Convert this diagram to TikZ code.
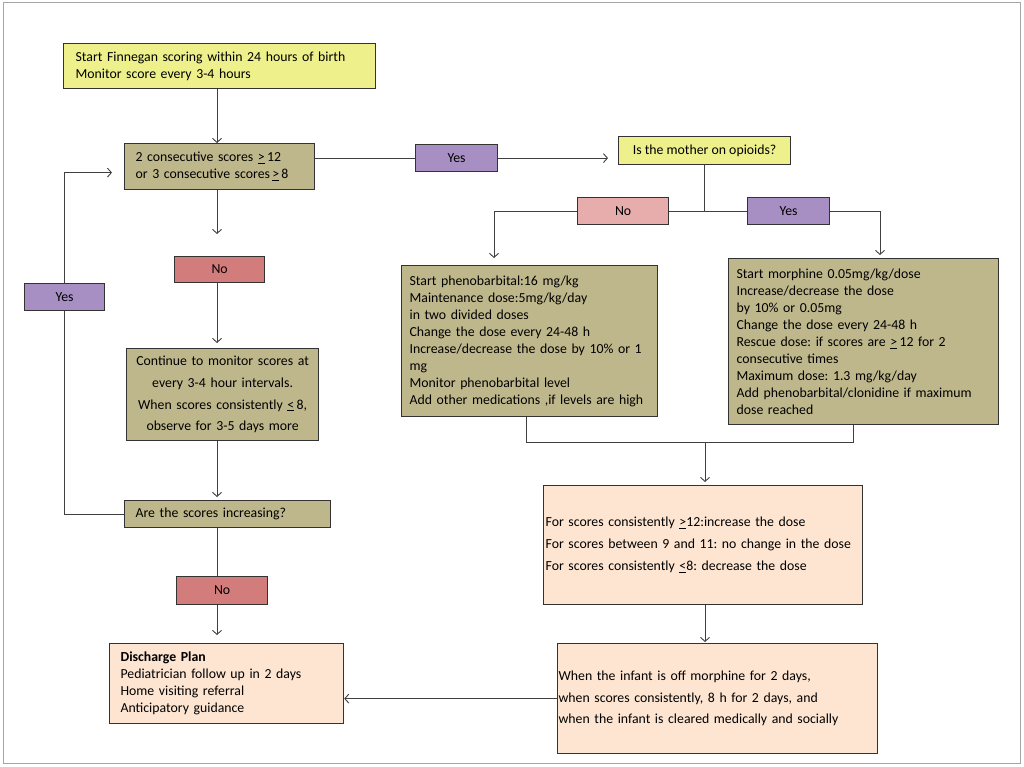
\documentclass[tikz,border=0pt]{standalone}
\usepackage{fontspec}
\setmainfont{Carlito}
\usetikzlibrary{arrows.meta}
\frenchspacing

\definecolor{ylwfill}{RGB}{238,240,140}
\definecolor{khakifill}{RGB}{191,183,140}
\definecolor{peachfill}{RGB}{253,229,210}
\definecolor{yesfill}{RGB}{167,143,196}
\definecolor{nopink}{RGB}{231,172,172}
\definecolor{nored}{RGB}{211,124,124}

\begin{document}
\begin{tikzpicture}[x=1pt,y=-1pt,
    box/.style={draw=black!80,line width=1.2pt,anchor=north west,inner ysep=0pt,
      text=black,font=\fontsize{13.8}{17}\selectfont},
    ylw/.style={box,fill=ylwfill},
    khaki/.style={box,fill=khakifill},
    peach/.style={box,fill=peachfill},
    yesbox/.style={box,fill=yesfill,minimum width=82pt,minimum height=27pt},
    nobox/.style={box,minimum width=91pt,minimum height=27pt},
    flow/.style={->,>={Straight Barb[length=4pt,width=9pt]},draw=black!75,line width=0.9pt},
    link/.style={draw=black!75,line width=0.9pt}]

    \useasboundingbox (0,0) rectangle (1024,767);
    \draw[gray!70,line width=1pt] (3,3) rectangle (1020,763);

    % left column
    \node[ylw,minimum width=312pt,minimum height=45pt,inner xsep=12pt,text width=288pt,align=left] (start) at (63,43)
      {Start Finnegan scoring within 24 hours of birth\\Monitor score every 3-4 hours};
    \node[khaki,minimum width=190pt,minimum height=46pt,text width=168pt,align=left] (cons) at (124,143)
      {2 consecutive scores \underline{>}\,12\\or 3 consecutive scores\,\underline{>}\,8};
    \node[nobox,fill=nored,minimum width=90pt,minimum height=26pt] (no1) at (174,256) {No};
    \node[khaki,minimum width=192pt,minimum height=92pt,text width=184pt,inner xsep=4pt,align=center,
      font=\fontsize{13.8}{21.7}\selectfont] (cont) at (126,348)
      {Continue to monitor scores at\\every 3-4 hour intervals.\\When scores consistently \underline{<}\,8,\\observe for 3-5 days more};
    \node[khaki,minimum width=206pt,minimum height=27pt,text width=184pt,align=left] (are) at (124,500)
      {Are the scores increasing?};
    \node[nobox,fill=nored,minimum height=28pt] (no2) at (176,576) {No};
    \node[yesbox,minimum width=80pt] (yes3) at (24,283) {Yes};
    \node[peach,minimum width=234pt,minimum height=80pt,text width=212pt,align=left] (disch) at (109,643)
      {\textbf{Discharge Plan}\\Pediatrician follow up in 2 days\\Home visiting referral\\Anticipatory guidance};

    % right side
    \node[yesbox] (yes1) at (415,144) {Yes};
    \node[ylw,minimum width=172pt,minimum height=28pt] (mother) at (618,136) {Is the mother on opioids?};
    \node[nobox,fill=nopink] (no3) at (577,197) {No};
    \node[yesbox] (yes2) at (747,197) {Yes};
    \node[khaki,minimum width=256pt,minimum height=151pt,text width=240pt,inner xsep=8pt,align=left] (pheno) at (401,265)
      {Start phenobarbital:16 mg/kg\\Maintenance dose:5mg/kg/day\\in two divided doses\\Change the dose every 24-48 h\\
       Increase/decrease the dose by 10\% or 1\\mg\\Monitor phenobarbital level\\Add other medications ,if levels are high};
    \node[khaki,minimum width=270pt,minimum height=166pt,text width=254pt,inner xsep=8pt,align=left] (morph) at (728,258)
      {Start morphine 0.05mg/kg/dose\\Increase/decrease the dose\\by 10\% or 0.05mg\\Change the dose every 24-48 h\\
       Rescue dose: if scores are \underline{>}\,12 for 2\\consecutive times\\Maximum dose: 1.3 mg/kg/day\\
       Add phenobarbital/clonidine if maximum\\dose reached};
    \node[peach,minimum width=319pt,minimum height=119pt,inner xsep=2pt,text width=315pt,align=left,
      font=\fontsize{13.8}{22}\selectfont] (dose) at (543,485)
      {For scores consistently \underline{>}12:increase the dose\\For scores between 9 and 11: no change in the dose\\
       For scores consistently \underline{<}8: decrease the dose};
    \node[peach,minimum width=320pt,minimum height=110pt,inner xsep=1pt,text width=318pt,align=left,
      font=\fontsize{13.8}{21.5}\selectfont] (when) at (557,643)
      {When the infant is off morphine for 2 days,\\when scores consistently, 8 h for 2 days, and\\
       when the infant is cleared medically and socially};

    \coordinate (col) at (217,0);
    \coordinate (phenoin) at (494,258);
    \coordinate (morphin) at (880,255);
    \coordinate (jl) at (526,442);
    \coordinate (join) at (705,442);
    \coordinate (jr) at (853,442);

    \draw[flow] (start.south -| col) -- (cons.north -| col);
    \draw[flow,shorten >=22pt] (cons.south -| col) -- (no1.north -| col);
    \draw[flow,shorten >=5pt] (no1.south -| col) -- (cont.north -| col);
    \draw[flow,shorten >=3pt] (cont.south -| col) -- (are.north -| col);
    \draw[link] (are.south -| col) -- (no2.north -| col);
    \draw[flow,shorten >=8pt] (no2.south -| col) -- (disch.north -| col);
    \draw[link] (are.west) -- (are.west -| yes3.south) -- (yes3.south);
    \draw[flow,shorten >=12pt] (yes3.north) -- ([yshift=-6pt]yes3.north |- cons.west) -- ([yshift=-6pt]cons.west);

    \draw[link] (yes1.west -| cons.east) -- (yes1.west);
    \draw[flow,shorten >=10pt] (yes1.east) -- (yes1.east -| mother.west);
    \draw[link] (mother.south) -- (mother.south |- no3.east);
    \draw[link] (no3.east) -- (yes2.west);
    \draw[flow] (no3.west) -| (phenoin);
    \draw[flow] (yes2.east) -| (morphin);

    \draw[link] (pheno.south -| jl) -- (jl) -- (jr) -- (morph.south -| jr);
    \draw[flow,shorten >=3pt] (join) -- (dose.north -| join);
    \draw[flow,shorten >=1pt] (dose.south -| join) -- (when.north -| join);
    \draw[flow] (when.west) -- (when.west -| disch.east);

  \end{tikzpicture}
\end{document}
